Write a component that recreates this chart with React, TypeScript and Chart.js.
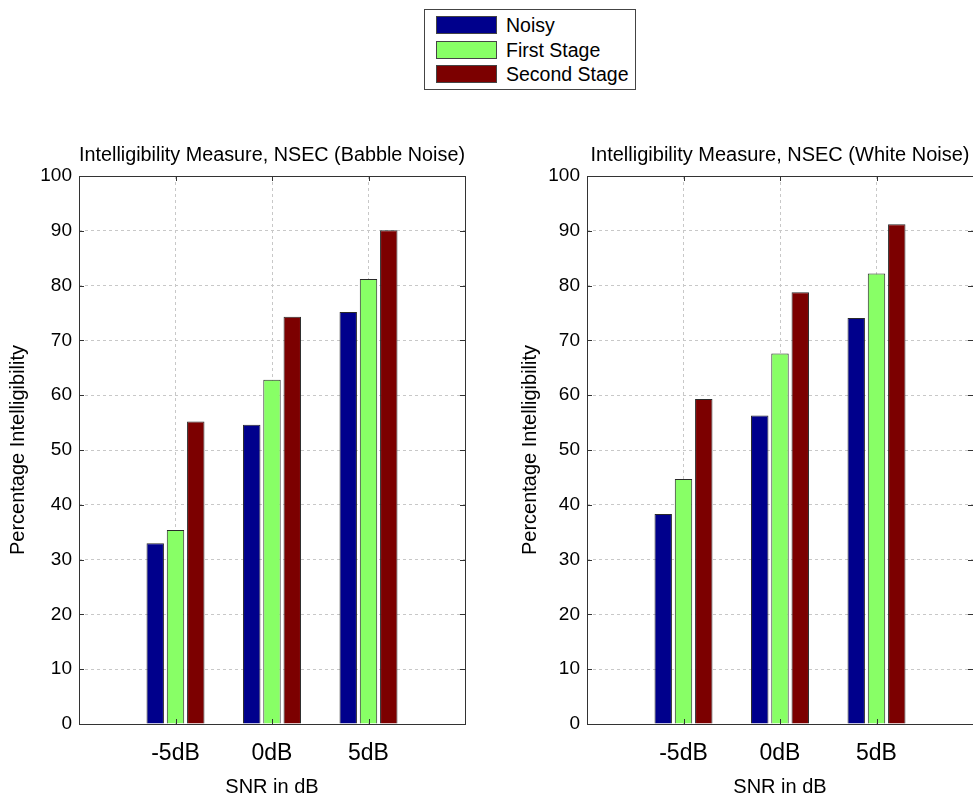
import React, { useEffect, useRef } from "react";
import { Chart, registerables } from "chart.js";

Chart.register(...registerables);

const snrLabels = ["-5dB", "0dB", "5dB"];
const seriesNames = ["Noisy", "First Stage", "Second Stage"];
const seriesColors = ["#00008C", "#88FF66", "#7C0000"];

const babbleNoisy = [33.0, 54.6, 75.2];
const babbleFirst = [35.4, 62.8, 81.2];
const babbleSecond = [55.2, 74.3, 90.1];

const whiteNoisy = [38.3, 56.3, 74.1];
const whiteFirst = [44.7, 67.6, 82.2];
const whiteSecond = [59.3, 78.8, 91.2];

const yTicks = [0, 10, 20, 30, 40, 50, 60, 70, 80, 90, 100];

const FONT = "'Liberation Sans', Arial, sans-serif";

const boxPlugin = {
  id: "matlabBox",
  afterDraw(chart: any) {
    const { ctx, chartArea, scales } = chart;
    const { left, right, top, bottom } = chartArea;
    ctx.save();
    ctx.strokeStyle = "#333";
    ctx.lineWidth = 1;
    ctx.setLineDash([]);
    ctx.strokeRect(Math.round(left) + 0.5, Math.round(top) + 0.5, Math.round(right - left), Math.round(bottom - top));
    const tl = 5;
    ctx.beginPath();
    for (const v of yTicks) {
      const py = Math.round(scales.y.getPixelForValue(v)) + 0.5;
      ctx.moveTo(left, py);
      ctx.lineTo(left + tl, py);
      ctx.moveTo(right, py);
      ctx.lineTo(right - tl, py);
    }
    for (let i = 1; i <= snrLabels.length; i++) {
      const px = Math.round(scales.x.getPixelForValue(i)) + 0.5;
      ctx.moveTo(px, top);
      ctx.lineTo(px, top + tl);
      ctx.moveTo(px, bottom);
      ctx.lineTo(px, bottom - tl);
    }
    ctx.stroke();
    ctx.restore();
  },
};

function BarPanel(props: {
  title: string;
  noisy: number[];
  first: number[];
  second: number[];
  left: number;
  width: number;
  yScaleWidth: number;
  yTitlePad: number;
  rightPad: number;
}) {
  const ref = useRef<HTMLCanvasElement | null>(null);
  useEffect(() => {
    if (!ref.current) return;
    const toPts = (arr: number[]) => arr.map((v, i) => ({ x: i + 1, y: v }));
    const values = [props.noisy, props.first, props.second];
    const chart = new Chart(ref.current, {
      type: "bar",
      data: {
        datasets: values.map((arr, k) => ({
          label: seriesNames[k],
          data: toPts(arr),
          backgroundColor: seriesColors[k],
          borderColor: "#2a2a2a",
          borderWidth: 1,
          categoryPercentage: 0.63,
          barPercentage: 0.86,
        })),
      },
      options: {
        animation: false,
        responsive: false,
        maintainAspectRatio: false,
        layout: { padding: { left: 0, right: props.rightPad, top: 0, bottom: 0 } },
        plugins: {
          legend: { display: false },
          tooltip: { enabled: false },
          title: {
            display: true,
            text: props.title,
            fullSize: false,
            color: "#000",
            font: { family: FONT, size: 20, weight: "normal", lineHeight: 1.2 },
            padding: { top: 3, bottom: 9 },
          },
        },
        scales: {
          x: {
            type: "linear",
            min: 0,
            max: 4,
            offset: false,
            afterFit: (s: any) => {
              s.height = 72;
              s.paddingLeft = 0;
              s.paddingRight = 0;
            },
            afterBuildTicks: (s: any) => {
              s.ticks = [0, 1, 2, 3, 4].map((v) => ({ value: v }));
            },
            ticks: {
              color: "#000",
              font: { family: FONT, size: 23 },
              padding: 16,
              maxRotation: 0,
              autoSkip: false,
              callback: (v: any) => snrLabels[Number(v) - 1] ?? "",
            },
            grid: { color: "#c8c8c8", lineWidth: 1, drawTicks: false, offset: false },
            border: { display: false, dash: [3, 3] },
            title: {
              display: true,
              text: "SNR in dB",
              color: "#000",
              font: { family: FONT, size: 20, lineHeight: 1 },
              padding: { top: 0, bottom: -1 },
            },
          },
          y: {
            min: 0,
            max: 100,
            afterFit: (s: any) => {
              s.width = props.yScaleWidth;
            },
            afterBuildTicks: (s: any) => {
              s.ticks = yTicks.map((v) => ({ value: v }));
            },
            ticks: {
              color: "#000",
              font: { family: FONT, size: 19 },
              padding: 7,
            },
            grid: { color: "#c8c8c8", lineWidth: 1, drawTicks: false },
            border: { display: false, dash: [3, 3] },
            title: {
              display: true,
              text: "Percentage Intelligibility",
              color: "#000",
              font: { family: FONT, size: 20, lineHeight: 1 },
              padding: { top: props.yTitlePad, bottom: 0 },
            },
          },
        },
      },
      plugins: [boxPlugin],
    } as any);
    return () => chart.destroy();
  }, []);
  return (
    <canvas
      ref={ref}
      width={props.width}
      height={656}
      style={{ position: "absolute", left: props.left, top: 140, width: props.width, height: 656 }}
    />
  );
}

function Legend() {
  const rowTops = [16, 41, 65];
  return (
    <div
      style={{
        position: "absolute",
        left: 424,
        top: 9,
        width: 212,
        height: 81,
        border: "1px solid #444",
        boxSizing: "border-box",
        background: "#fff",
        fontFamily: FONT,
        fontSize: 19.5,
        color: "#000",
      }}
    >
      {seriesNames.map((name, i) => (
        <div key={name}>
          <div
            style={{
              position: "absolute",
              left: 11,
              top: rowTops[i] - 10,
              width: 61,
              height: 18,
              boxSizing: "border-box",
              border: "1px solid #444",
              background: seriesColors[i],
            }}
          />
          <div
            style={{
              position: "absolute",
              left: 81,
              top: rowTops[i] - 10 - 3,
              lineHeight: "24px",
              whiteSpace: "nowrap",
            }}
          >
            {name}
          </div>
        </div>
      ))}
    </div>
  );
}

export default function App() {
  return (
    <div
      style={{
        position: "fixed",
        left: 0,
        top: 0,
        width: 973,
        height: 796,
        overflow: "hidden",
        background: "#fff",
      }}
    >
      <Legend />
      <BarPanel
        title="Intelligibility Measure, NSEC (Babble Noise)"
        noisy={babbleNoisy}
        first={babbleFirst}
        second={babbleSecond}
        left={0}
        width={480}
        yScaleWidth={79}
        yTitlePad={8}
        rightPad={15}
      />
      <BarPanel
        title="Intelligibility Measure, NSEC (White Noise)"
        noisy={whiteNoisy}
        first={whiteFirst}
        second={whiteSecond}
        left={490}
        width={483}
        yScaleWidth={97}
        yTitlePad={30}
        rightPad={0}
      />
    </div>
  );
}
